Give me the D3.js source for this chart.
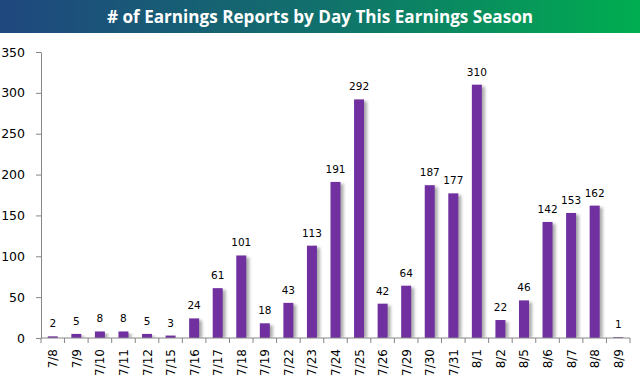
<!DOCTYPE html>
<html><head><meta charset="utf-8">
<script src="https://cdn.jsdelivr.net/npm/d3@7/dist/d3.min.js"></script>
<style>body{margin:0;background:#fff}svg{display:block}</style>
</head><body>
<svg id="c" width="640" height="384"></svg>
<script>
const title = "# of Earnings Reports by Day This Earnings Season";
const categories = ["7/8","7/9","7/10","7/11","7/12","7/15","7/16","7/17","7/18","7/19","7/22","7/23","7/24","7/25","7/26","7/29","7/30","7/31","8/1","8/2","8/5","8/6","8/7","8/8","8/9"];
const values = [2,5,8,8,5,3,24,61,101,18,43,113,191,292,42,64,187,177,310,22,46,142,153,162,1];
const yTicks = [0,50,100,150,200,250,300,350];

const svg = d3.select("#c");
const defs = svg.append("defs");
const grad = defs.append("linearGradient").attr("id","tg").attr("x1","0").attr("x2","1").attr("y1","0").attr("y2","0");
grad.append("stop").attr("offset","0").attr("stop-color","#1f477f");
grad.append("stop").attr("offset","0.5").attr("stop-color","#11706c");
grad.append("stop").attr("offset","1").attr("stop-color","#00ae50");
const f = defs.append("filter").attr("id","sh").attr("x","-50%").attr("y","-10%").attr("width","200%").attr("height","120%");
f.append("feGaussianBlur").attr("stdDeviation","1.6");

svg.append("rect").attr("x",0).attr("y",0).attr("width",640).attr("height",33).attr("fill","url(#tg)");
svg.append("text").attr("x",320).attr("y",23).attr("text-anchor","middle")
  .attr("font-family","'Open Sans', sans-serif").attr("font-weight","bold").attr("font-size",17)
  .attr("fill","#fff").attr("textLength",426).attr("lengthAdjust","spacingAndGlyphs").text(title);

const x = d3.scaleBand().domain(categories).range([41,630]).padding(0);
const y = d3.scaleLinear().domain([0,350]).range([338,52]);
const bw = 10;

const g = svg.append("g");
// shadows
g.selectAll("rect.s").data(values).enter().append("rect")
  .attr("x",(d,i)=>x(categories[i])+x.bandwidth()/2-bw/2+3)
  .attr("y",d=>y(d)+2).attr("width",bw).attr("height",d=>Math.max(0,y(0)-y(d)-2))
  .attr("fill","#888").attr("opacity",0.7).attr("filter","url(#sh)");
// white cover below axis
svg.append("rect").attr("x",41).attr("y",338).attr("width",600).attr("height",46).attr("fill","#fff");
g.selectAll("rect.b").data(values).enter().append("rect")
  .attr("x",(d,i)=>x(categories[i])+x.bandwidth()/2-bw/2)
  .attr("y",d=>y(d)).attr("width",bw).attr("height",d=>y(0)-y(d))
  .attr("fill","#7030a0");
g.selectAll("text.v").data(values).enter().append("text")
  .attr("x",(d,i)=>x(categories[i])+x.bandwidth()/2)
  .attr("y",d=>y(d)-9).attr("text-anchor","middle")
  .attr("font-family","'DejaVu Sans', sans-serif").attr("font-size",10.5).attr("fill","#000")
  .text(d=>d);

// y axis
const ya = svg.append("g").attr("transform","translate(41,0)")
  .call(d3.axisLeft(y).tickValues(yTicks).tickSize(5).tickPadding(11).tickSizeOuter(0));
ya.select(".domain").attr("stroke","#868686");
ya.selectAll(".tick line").attr("stroke","#868686");
ya.selectAll("text").attr("font-family","'DejaVu Sans', sans-serif").attr("font-size",12.5).attr("fill","#000");

// x axis
const xa = svg.append("g").attr("transform","translate(0,338)");
xa.append("line").attr("x1",41).attr("x2",630).attr("y1",0).attr("y2",0).attr("stroke","#868686");
const bounds = categories.map(c=>x(c)).concat([x.range()[1]]);
xa.selectAll("line.t").data(bounds).enter().append("line")
  .attr("x1",d=>d).attr("x2",d=>d).attr("y1",0).attr("y2",5).attr("stroke","#868686");
xa.selectAll("text").data(categories).enter().append("text")
  .attr("transform",d=>`translate(${x(d)+x.bandwidth()/2+4.5},11) rotate(-90)`)
  .attr("text-anchor","end")
  .attr("font-family","'DejaVu Sans', sans-serif").attr("font-size",12).attr("fill","#000")
  .text(d=>d);
</script>
</body></html>
